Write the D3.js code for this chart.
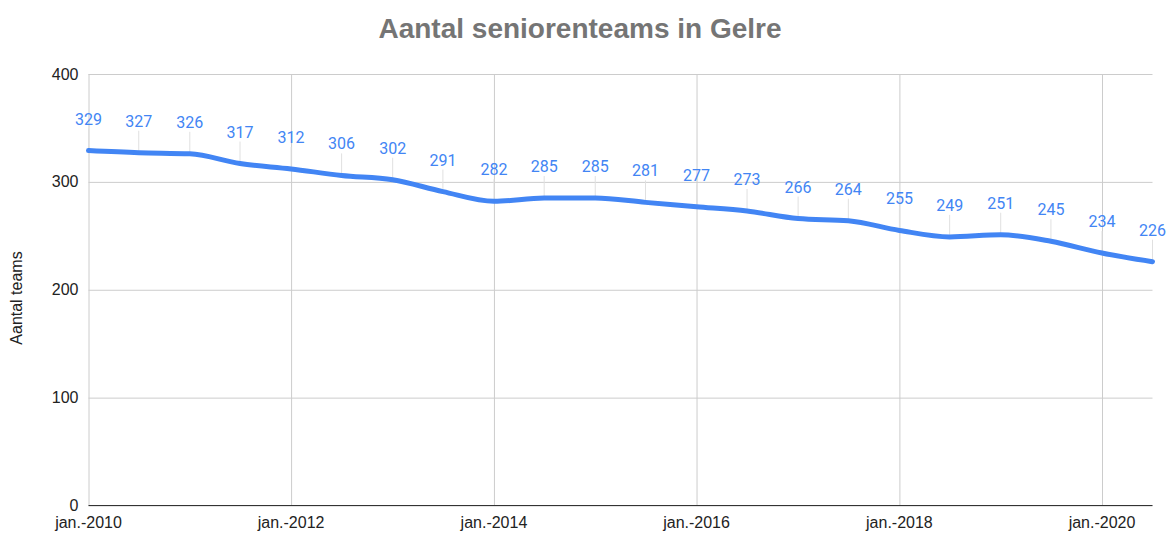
<!DOCTYPE html>
<html>
<head>
<meta charset="utf-8">
<script src="https://cdn.jsdelivr.net/npm/d3@7"></script>
<style>
  body { margin: 0; background: #fff; }
  svg { display: block; }
</style>
</head>
<body>
<svg id="chart"></svg>
<script>
// gegevens: elk half jaar (jan/jul)
const dates = [
    "2010-01", "2010-07", "2011-01", "2011-07", "2012-01", "2012-07",
    "2013-01", "2013-07", "2014-01", "2014-07", "2015-01", "2015-07",
    "2016-01", "2016-07", "2017-01", "2017-07", "2018-01", "2018-07",
    "2019-01", "2019-07", "2020-01", "2020-07"
];
const teams = [329, 327, 326, 317, 312, 306, 302, 291, 282, 285, 285,
    281, 277, 273, 266, 264, 255, 249, 251, 245, 234, 226];
const yTicks = [0, 100, 200, 300, 400];
const xTickYears = [2010, 2012, 2014, 2016, 2018, 2020];

const parse = d3.timeParse("%Y-%m");
let data = dates.map((d, i) => ({x: parse(d), y: teams[i]}));

let width = 1168;
let height = 534;

let svg = d3.select("#chart")
    .attr("width", width)
    .attr("height", height);

let plotLeft = 88.5, plotRight = 1152.5, plotTop = 74, plotBottom = 505.5;

let scaleX = d3.scaleTime()
    .domain([parse("2010-01"), parse("2020-07")])
    .range([plotLeft, plotRight]);

let scaleY = d3.scaleLinear()
    .domain([0, 400])
    .range([plotBottom, plotTop]);

// titel
svg.append("text")
    .attr("x", 580)
    .attr("y", 38)
    .attr("text-anchor", "middle")
    .style("font-family", "Arial, 'Liberation Sans', sans-serif")
    .style("font-weight", "bold")
    .style("font-size", "28px")
    .style("fill", "#757575")
    .text("Aantal seniorenteams in Gelre");

// horizontale rasterlijnen
svg.append("g")
    .attr("transform", `translate(${plotLeft}, 0)`)
    .call(d3.axisLeft(scaleY).tickValues(yTicks).tickSize(-(plotRight - plotLeft)).tickFormat(""))
    .call(g => g.select(".domain").remove())
    .call(g => g.selectAll("line").attr("stroke", "#cccccc").attr("stroke-width", 1));

// verticale rasterlijnen
let xTicks = xTickYears.map(y => new Date(y, 0, 1));
svg.append("g")
    .attr("transform", `translate(0, ${plotBottom})`)
    .call(d3.axisBottom(scaleX).tickValues(xTicks).tickSize(-(plotBottom - plotTop)).tickFormat(""))
    .call(g => g.select(".domain").remove())
    .call(g => g.selectAll("line").attr("stroke", "#cccccc").attr("stroke-width", 1));

// y-as labels
svg.append("g")
    .selectAll("text")
    .data(yTicks)
    .join("text")
    .attr("x", plotLeft - 10)
    .attr("y", d => scaleY(d) + 5.5)
    .attr("text-anchor", "end")
    .style("font-family", "Arial, 'Liberation Sans', sans-serif")
    .style("font-size", "16px")
    .style("fill", "#222")
    .text(d => d);

// x-as labels
svg.append("g")
    .selectAll("text")
    .data(xTicks)
    .join("text")
    .attr("x", d => scaleX(d))
    .attr("y", 528)
    .attr("text-anchor", "middle")
    .style("font-family", "Arial, 'Liberation Sans', sans-serif")
    .style("font-size", "16px")
    .style("fill", "#222")
    .text(d => "jan.-" + d.getFullYear());

// y-as titel
svg.append("text")
    .attr("transform", `translate(22, 298) rotate(-90)`)
    .attr("text-anchor", "middle")
    .style("font-family", "Arial, 'Liberation Sans', sans-serif")
    .style("font-size", "16px")
    .style("fill", "#222")
    .text("Aantal teams");

// basislijn
svg.append("line")
    .attr("x1", plotLeft).attr("x2", plotRight)
    .attr("y1", plotBottom).attr("y2", plotBottom)
    .attr("stroke", "#333")
    .attr("stroke-width", 1.2);

// verbindingslijntjes naar labels
svg.append("g")
    .selectAll("line")
    .data(data)
    .join("line")
    .attr("x1", d => scaleX(d.x))
    .attr("x2", d => scaleX(d.x))
    .attr("y1", d => scaleY(d.y) - 22)
    .attr("y2", d => scaleY(d.y))
    .attr("stroke", "#e0e0e0")
    .attr("stroke-width", 1);

// lijn
let lineF = d3.line()
    .x(d => scaleX(d.x))
    .y(d => scaleY(d.y))
    .curve(d3.curveMonotoneX);

svg.append("path")
    .datum(data)
    .attr("d", lineF)
    .attr("fill", "none")
    .attr("stroke", "#4285f4")
    .attr("stroke-width", 5)
    .attr("stroke-linecap", "round");

// datalabels
svg.append("g")
    .selectAll("text")
    .data(data)
    .join("text")
    .attr("x", d => scaleX(d.x))
    .attr("y", d => scaleY(d.y) - 26)
    .attr("text-anchor", "middle")
    .style("font-family", "Roboto, Arial, sans-serif")
    .style("font-size", "16px")
    .style("fill", "#4285f4")
    .text(d => d.y);
</script>
</body>
</html>
